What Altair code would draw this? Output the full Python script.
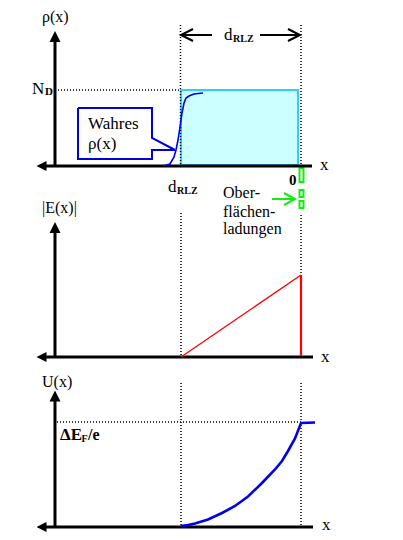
import altair as alt
import pandas as pd

# ---- data (pixel-like units of the diagram) ----
axis_x = [55, 55, 55]
axis_top = [40, 232, 400]
axis_base = [166, 357, 527]
axis_left = [45, 45, 45]
axis_right = [312, 313, 313]
arrow_up_y = [36.5, 227.5, 396]
arrow_left_x = [41.5, 41.5, 41.5]

# dotted guide lines: x1, y1, x2, y2
dot_x1 = [180.5, 301, 58, 181, 301, 181, 301, 57]
dot_y1 = [25, 25, 90, 213, 215, 383, 383, 422]
dot_x2 = [180.5, 301, 180, 181, 301, 181, 301, 301]
dot_y2 = [166, 166, 90, 357, 275, 527, 527, 422]

# space-charge box (N_D over d_RLZ)
box_x = [181]
box_x2 = [298]
box_y = [90]
box_y2 = [165]

# "true" rho(x) curve
rho_x = [163, 170, 174, 176, 178, 180, 182, 184, 186, 189, 194, 203]
rho_y = [166, 164, 157, 150, 140, 127, 113, 103, 98, 96, 94, 93]

# callout box outline
cal_x = [78, 152, 152, 175, 152, 152, 78, 78]
cal_y = [108, 108, 138, 150, 150, 159, 159, 108]

# |E(x)|
e_x = [181, 301]
e_y = [357, 275]
ev_x = [301, 301]
ev_y = [275, 356]

# U(x)
u_x = [181, 188, 195, 208, 222, 235, 248, 262, 275, 282, 288, 295, 301, 315]
u_y = [526, 525, 523.5, 519.5, 513, 506, 496.5, 483, 469.5, 461, 451, 438.5, 423, 422.5]

# d_RLZ arrows
la_x = [181, 212]; la_y = [35, 35]
lah_x = [193, 181, 193]; lah_y = [29, 35, 41]
ra_x = [260, 300]; ra_y = [35, 35]
rah_x = [288, 300, 288]; rah_y = [29, 35, 41]

# green surface-charge arrow and dashes
ga_x = [272, 295]; ga_y = [199, 199]
gah_x = [284, 295, 284]; gah_y = [193, 199, 205]
dash_y1 = [168, 190, 201]
dash_y2 = [182, 197, 208]

# labels: x(left), y(center), text, size
lab_x = [42, 320, 32, 224, 88, 88, 168, 223, 223, 223, 42, 321, 42, 322]
lab_y = [17, 165, 89, 35, 124, 144, 187, 193, 212, 229, 208, 357, 382, 525]
lab_t = ["ρ(x)", "x", "N", "d", "Wahres", "ρ(x)", "d", "Ober-", "flächen-",
         "ladungen", "|E(x)|", "x", "U(x)", "x"]
lab_s = [16, 17, 17, 17, 17, 17, 17, 16, 16, 16, 16, 17, 16, 17]

blab_x = [45, 233, 177, 289, 60, 81.5, 88]
blab_y = [92, 39, 191, 180, 435, 439, 435]
blab_t = ["D", "RLZ", "RLZ", "0", "ΔE", "F", "/e"]
blab_s = [11, 10, 10, 15, 17, 10, 16]

# ---- build tables ----
BLACK = "#000000"
BLUE = "#0000ee"
RED = "#ff0000"
GREEN = "#11ee11"

axes_rows = []
for i in range(3):
    axes_rows.append(dict(x=axis_x[i], y=axis_top[i], x2=axis_x[i], y2=axis_base[i]))
    axes_rows.append(dict(x=axis_left[i], y=axis_base[i], x2=axis_right[i], y2=axis_base[i]))
axes_df = pd.DataFrame(axes_rows)

dots_df = pd.DataFrame(dict(x=dot_x1, y=dot_y1, x2=dot_x2, y2=dot_y2))

up_df = pd.DataFrame(dict(x=axis_x, y=arrow_up_y))
left_df = pd.DataFrame(dict(x=arrow_left_x, y=axis_base))

box_df = pd.DataFrame(dict(x=box_x, x2=box_x2, y=box_y, y2=box_y2))
dash_df = pd.DataFrame(dict(x=[299.5] * 3, x2=[303.5] * 3, y=dash_y1, y2=dash_y2))

line_rows = []
def add(name, xs, ys, color, w):
    for k, (a, b) in enumerate(zip(xs, ys)):
        line_rows.append(dict(id=name, o=k, x=a, y=b, c=color, w=w))

add("cal", cal_x, cal_y, "#0000dd", 2)
add("rho", rho_x, rho_y, BLUE, 1.6)
add("E", e_x, e_y, RED, 1.3)
add("Ev", ev_x, ev_y, RED, 2.2)
add("U", u_x, u_y, BLUE, 2.6)
add("la", la_x, la_y, BLACK, 2)
add("lah", lah_x, lah_y, BLACK, 2)
add("ra", ra_x, ra_y, BLACK, 2)
add("rah", rah_x, rah_y, BLACK, 2)
add("ga", ga_x, ga_y, GREEN, 2)
add("gah", gah_x, gah_y, GREEN, 2)
lines_df = pd.DataFrame(line_rows)

lab_df = pd.DataFrame(dict(x=lab_x, y=lab_y, t=lab_t, s=lab_s))
blab_df = pd.DataFrame(dict(x=blab_x, y=blab_y, t=blab_t, s=blab_s))

# ---- scales: diagram units map 1:1 to page pixels ----
W, H = 387, 526
xs = alt.Scale(domain=[8, 395], nice=False, zero=False)
ys = alt.Scale(domain=[8, 534], nice=False, zero=False, reverse=True)
X = lambda f="x": alt.X(f"{f}:Q", scale=xs, axis=None)
Y = lambda f="y": alt.Y(f"{f}:Q", scale=ys, axis=None)

box = alt.Chart(box_df).mark_rect(fill="#ccffff", stroke="#33ccff", strokeWidth=2).encode(
    x=X(), x2="x2:Q", y=Y(), y2="y2:Q")

dashes = alt.Chart(dash_df).mark_rect(fill="#ffffff", stroke=GREEN, strokeWidth=2).encode(
    x=X(), x2="x2:Q", y=Y(), y2="y2:Q")

dots = alt.Chart(dots_df).mark_rule(color=BLACK, strokeWidth=1.5, strokeDash=[1, 2]).encode(
    x=X(), x2="x2:Q", y=Y(), y2="y2:Q")

axes = alt.Chart(axes_df).mark_rule(color=BLACK, strokeWidth=3).encode(
    x=X(), x2="x2:Q", y=Y(), y2="y2:Q")

ups = alt.Chart(up_df).mark_point(shape="M0,-1L1,1L-1,1Z", size=121, filled=True,
                                  color=BLACK, opacity=1).encode(x=X(), y=Y())
lefts = alt.Chart(left_df).mark_point(shape="M-1,0L1,-1L1,1Z", size=100, filled=True,
                                      color=BLACK, opacity=1).encode(x=X(), y=Y())

lines = alt.Chart(lines_df).mark_line(interpolate="linear").encode(
    x=X(), y=Y(), detail="id:N", order="o:Q",
    color=alt.Color("c:N", scale=None),
    strokeWidth=alt.StrokeWidth("w:Q", scale=None))

labels = alt.Chart(lab_df).mark_text(align="left", baseline="middle",
                                     font="Liberation Serif", color=BLACK).encode(
    x=X(), y=Y(), text="t:N", size=alt.Size("s:Q", scale=None))

blabels = alt.Chart(blab_df).mark_text(align="left", baseline="middle", fontWeight="bold",
                                       font="Liberation Serif", color=BLACK).encode(
    x=X(), y=Y(), text="t:N", size=alt.Size("s:Q", scale=None))

chart = alt.layer(box, dots, dashes, axes, lines, ups, lefts, labels, blabels).properties(
    width=W, height=H, padding=0, autosize="none", background="#ffffff"
).configure_view(strokeWidth=0)

chart.save("out.html", embed_options={"renderer": "svg", "actions": False})
